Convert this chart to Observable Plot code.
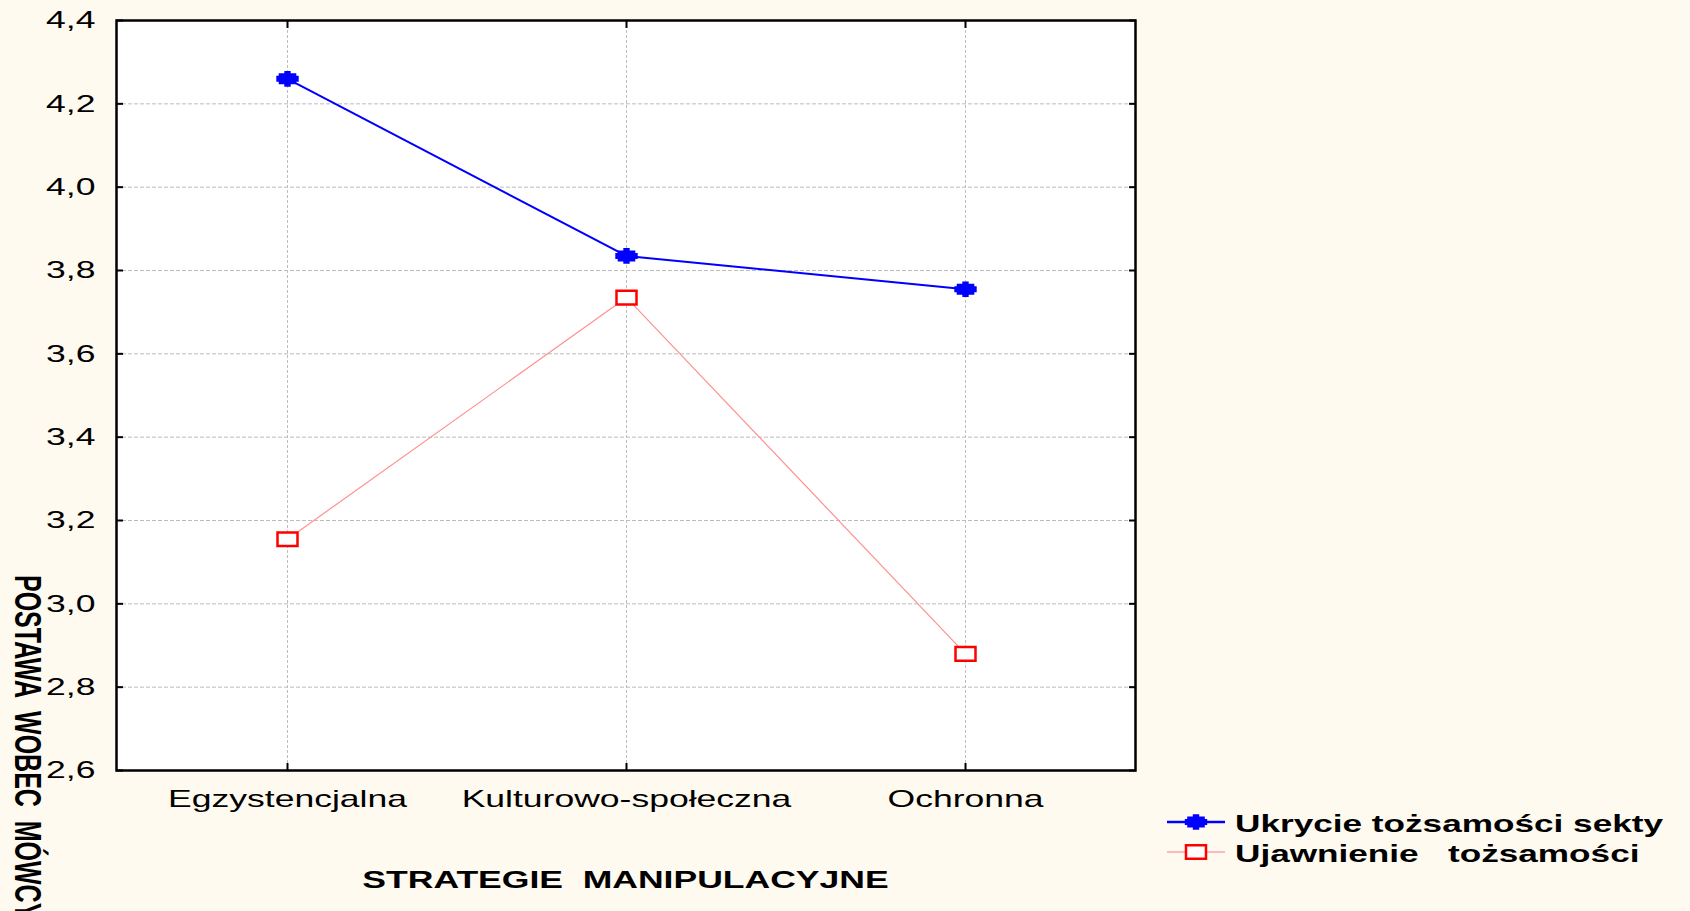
<!DOCTYPE html>
<html><head><meta charset="utf-8">
<script src="https://cdn.jsdelivr.net/npm/d3@7"></script>
<script src="https://cdn.jsdelivr.net/npm/@observablehq/plot@0.6"></script>
<style>
html,body{margin:0;padding:0;background:#fffaf0;}
#wrap{position:relative;width:1690px;height:911px;overflow:hidden;background:#fffaf0;font-family:"Liberation Sans",Arial,sans-serif;}
</style></head><body><div id="wrap"><div id="chart"></div></div>
<script>
// ---- data ----
const categories = ["Egzystencjalna", "Kulturowo-społeczna", "Ochronna"];
const seriesNames = ["Ukrycie tożsamości sekty", "Ujawnienie   tożsamości"];
const hiddenValues = [4.26, 3.835, 3.755];
const revealedValues = [3.155, 3.735, 2.88];
const yTicks = [2.6, 2.8, 3.0, 3.2, 3.4, 3.6, 3.8, 4.0, 4.2, 4.4];
const xTitle = "STRATEGIE  MANIPULACYJNE";
const yTitle = "POSTAWA  WOBEC  MÓWCY";

const hiddenRows = categories.map((c, i) => ({category: c, value: hiddenValues[i], series: seriesNames[0]}));
const revealedRows = categories.map((c, i) => ({category: c, value: revealedValues[i], series: seriesNames[1]}));

// ---- styles ----
const W = 1690, H = 911;
const M = {left: 116, right: 555, top: 20, bottom: 141};
const BLUE = "#0000ff", RED = "#ff0000", PINK = "#ff9090";
const FONT = '"Liberation Sans", Arial, sans-serif';

const blobSymbol = {draw(ctx) {
  const a = 3.2, b = 8.8, c = 11.2, p = 3, q = 5.5, r = 7.8;
  const pts = [[-a,-r],[a,-r],[a,-q],[b,-q],[b,-p],[c,-p],[c,p],[b,p],[b,q],[a,q],[a,r],[-a,r],[-a,q],[-b,q],[-b,p],[-c,p],[-c,-p],[-b,-p],[-b,-q],[-a,-q]];
  ctx.moveTo(pts[0][0], pts[0][1]);
  for (const [x, y] of pts.slice(1)) ctx.lineTo(x, y);
  ctx.closePath();
}};
const boxSymbol = {draw(ctx) {
  ctx.moveTo(-10, -6.8); ctx.lineTo(10, -6.8); ctx.lineTo(10, 6.8); ctx.lineTo(-10, 6.8); ctx.closePath();
}};

const fmt = d => d.toFixed(1).replace(".", ",");
const blank = () => "";

const plot = Plot.plot({
  width: W, height: H,
  marginLeft: M.left, marginRight: M.right, marginTop: M.top, marginBottom: M.bottom,
  style: {background: "transparent", fontFamily: FONT, color: "black", overflow: "visible"},
  x: {type: "point", domain: categories, padding: 0.5, label: null},
  y: {domain: [2.6, 4.4], label: null},
  marks: [
    Plot.frame({fill: "white", stroke: null}),
    Plot.gridY(yTicks.slice(1, -1), {stroke: "#bdbdbd", strokeOpacity: 1, strokeDasharray: "4,2"}),
    Plot.gridX(categories, {stroke: "#bdbdbd", strokeOpacity: 1, strokeDasharray: "3,2"}),
    Plot.axisY(yTicks, {anchor: "left", tickSize: 0, tickPadding: 21, tickFormat: fmt, fontSize: 24, label: null}),
    Plot.axisY(yTicks, {anchor: "left", tickSize: -7, tickFormat: blank, strokeWidth: 2, label: null}),
    Plot.axisY(yTicks, {anchor: "right", tickSize: -7, tickFormat: blank, strokeWidth: 2, label: null}),
    Plot.axisX(categories, {anchor: "bottom", tickSize: 0, tickPadding: 19, fontSize: 24, label: null}),
    Plot.axisX(categories, {anchor: "bottom", tickSize: -7, tickFormat: blank, strokeWidth: 2, label: null}),
    Plot.axisX(categories, {anchor: "top", tickSize: -7, tickFormat: blank, strokeWidth: 2, label: null}),
    Plot.frame({stroke: "black", strokeWidth: 2.5}),
    Plot.line(revealedRows, {x: "category", y: "value", stroke: PINK, strokeWidth: 1.2}),
    Plot.line(hiddenRows, {x: "category", y: "value", stroke: BLUE, strokeWidth: 2}),
    Plot.dot(revealedRows, {x: "category", y: "value", symbol: boxSymbol, fill: "white", stroke: RED, strokeWidth: 2.5, r: 8}),
    Plot.dot(hiddenRows, {x: "category", y: "value", symbol: blobSymbol, fill: BLUE, stroke: null, r: 8})
  ]
});
document.getElementById("chart").append(plot);

const svg = d3.select(plot);
function stretch(sel, k) {
  sel.each(function() {
    if (!this.textContent) return;
    const L = this.getComputedTextLength();
    this.setAttribute("textLength", L * k);
    this.setAttribute("lengthAdjust", "spacingAndGlyphs");
  });
}
stretch(svg.selectAll("text"), 1.48);

// axis titles
const cx = (M.left + (W - M.right)) / 2;
const xt = svg.append("text")
  .attr("x", cx).attr("y", 888).attr("text-anchor", "middle")
  .attr("font-size", 24).attr("font-weight", "bold").attr("fill", "black")
  .style("white-space", "pre").text(xTitle);
stretch(xt, 1.48);

svg.append("text")
  .attr("transform", "translate(15,575) scale(1.45,1) rotate(90)")
  .attr("text-anchor", "start")
  .attr("font-size", 25).attr("font-weight", "bold").attr("fill", "black")
  .style("white-space", "pre").text(yTitle);

// legend
const legend = svg.append("g").attr("font-size", 24).attr("font-weight", "bold").attr("fill", "black").attr("text-anchor", "start");
const legendItems = [
  {name: seriesNames[0], color: BLUE, width: 2.5, symbol: blobSymbol, fill: BLUE, stroke: "none"},
  {name: seriesNames[1], color: "#ffb8b8", width: 2, symbol: boxSymbol, fill: "white", stroke: RED}
];
legendItems.forEach((it, i) => {
  const g = legend.append("g").attr("transform", `translate(1167,${822 + i * 30})`);
  g.append("line").attr("x1", 0).attr("x2", 58).attr("stroke", it.color).attr("stroke-width", it.width);
  g.append("path").attr("transform", "translate(29,0)")
    .attr("d", d3.symbol(it.symbol)())
    .attr("fill", it.fill).attr("stroke", it.stroke).attr("stroke-width", 2.5);
  const t = g.append("text").attr("x", 68).attr("y", 9.5).attr("text-anchor", "start").style("white-space", "pre").text(it.name);
  stretch(t, 1.465);
});
</script></body></html>
